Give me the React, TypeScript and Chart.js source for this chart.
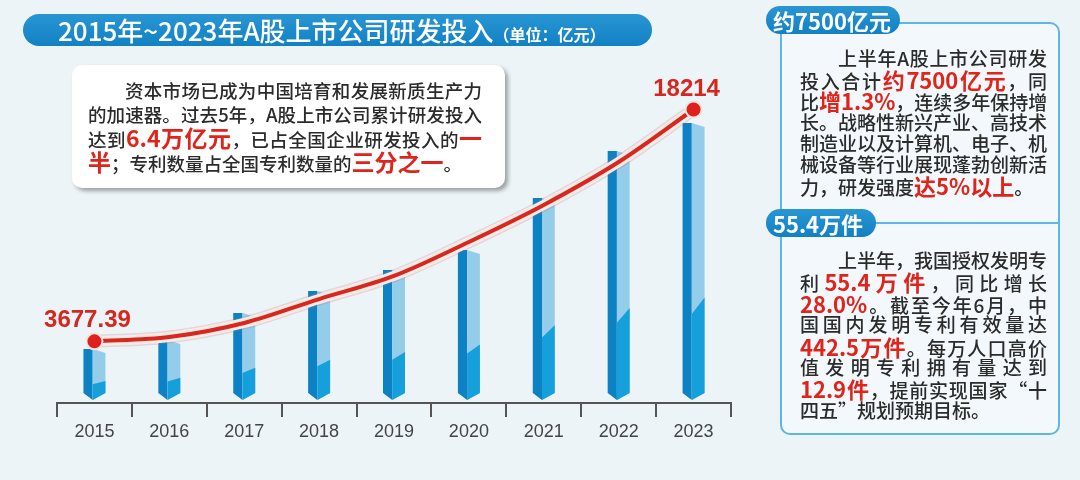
import React, { useEffect, useRef } from "react";
import { Chart, registerables } from "chart.js";

Chart.register(...registerables);

// ---------- data ----------
const years = ["2015", "2016", "2017", "2018", "2019", "2020", "2021", "2022", "2023"];
const barValues = [3200, 3760, 5450, 6830, 8150, 9400, 12660, 15610, 17370];
const trendValues = [3677.39, 3950, 4830, 6330, 7780, 9910, 12230, 14920, 18214];
const pointLabels = ["3677.39", "", "", "", "", "", "", "", "18214"];

const titleMain = "2015年~2023年A股上市公司研发投入";
const titleUnit = "（单位：亿元）";

type Seg = [string, boolean?];
const leftRows: Seg[][] = [
  [["资本市场已成为中国培育和发展新质生产力"]],
  [["的加速器。过去5年，A股上市公司累计研发投入"]],
  [["达到"], ["6.4万亿元", true], ["，已占全国企业研发投入的"], ["一", true]],
  [["半", true], ["；专利数量占全国专利数量的"], ["三分之一", true], ["。"]],
];

const panel1Title = "约7500亿元";
const panel1Rows: Seg[][] = [
  [["上半年A股上市公司研发"]],
  [["投入合计"], ["约7500亿元", true], ["，同"]],
  [["比"], ["增1.3%", true], ["，连续多年保持增"]],
  [["长。战略性新兴产业、高技术"]],
  [["制造业以及计算机、电子、机"]],
  [["械设备等行业展现蓬勃创新活"]],
  [["力，研发强度"], ["达5%以上", true], ["。"]],
];

const panel2Title = "55.4万件";
const panel2Rows: Seg[][] = [
  [["上半年，我国授权发明专"]],
  [["利"], ["55.4万件", true], ["，同比增长"]],
  [["28.0%", true], ["。截至今年6月，中"]],
  [["国国内发明专利有效量达"]],
  [["442.5万件", true], ["。每万人口高价"]],
  [["值发明专利拥有量达到"]],
  [["12.9件", true], ["，提前实现国家“十"]],
  [["四五”规划预期目标。"]],
];

const CJK = '"Noto Sans CJK SC", "Noto Sans", sans-serif';
const RED = "#e0231b";

// ---------- plugins ----------
const bar3d = {
  id: "bar3d",
  beforeDatasetDraw(chart: any, args: any) {
    const meta = args.meta;
    if (meta.type !== "bar") return;
    const ctx = chart.ctx as CanvasRenderingContext2D;
    ctx.save();
    meta.data.forEach((el: any) => {
      const { x, y, base, width } = el.getProps(["x", "y", "base", "width"], true);
      const l = x - width / 2;
      const r = x + width / 2;
      const s = l + width * 0.42;
      const d = 7;
      const h = base - y;
      ctx.fillStyle = "#0c82c4";
      ctx.beginPath();
      ctx.moveTo(l, y);
      ctx.lineTo(s, y);
      ctx.lineTo(s, base);
      ctx.lineTo(l, base - d);
      ctx.closePath();
      ctx.fill();
      ctx.fillStyle = "#93cde9";
      ctx.beginPath();
      ctx.moveTo(s, y);
      ctx.lineTo(r, y + 4);
      ctx.lineTo(r, base - d);
      ctx.lineTo(s, base);
      ctx.closePath();
      ctx.fill();
      const yL = base - 0.31 * h;
      const yR = base - 0.37 * h;
      ctx.fillStyle = "#159fdb";
      ctx.beginPath();
      ctx.moveTo(s, yL);
      ctx.lineTo(r, yR);
      ctx.lineTo(r, base - d);
      ctx.lineTo(s, base);
      ctx.closePath();
      ctx.fill();
    });
    ctx.restore();
    return false;
  },
};

const endLabels = {
  id: "endLabels",
  afterDatasetsDraw(chart: any) {
    const meta = chart.getDatasetMeta(0);
    const ctx = chart.ctx as CanvasRenderingContext2D;
    ctx.save();
    ctx.font = 'bold 24px "Liberation Sans", Arial, sans-serif';
    ctx.fillStyle = "#d7261d";
    ctx.textAlign = "center";
    ctx.textBaseline = "alphabetic";
    meta.data.forEach((pt: any, i: number) => {
      const t = pointLabels[i];
      if (!t) return;
      ctx.fillText(t, pt.x - 7, pt.y - 14);
    });
    ctx.restore();
  },
};

// ---------- text helpers ----------
function Row(props: {
  segs: Seg[];
  left: number;
  top: number;
  width: number;
  size: number;
  redSize: number;
  lh: number;
  justify: boolean;
  indent?: boolean;
}) {
  const { segs, left, top, width, size, redSize, lh, justify, indent } = props;
  return (
    <div
      style={{
        position: "absolute",
        left,
        top: top - lh / 2,
        width,
        height: lh,
        lineHeight: lh + "px",
        fontSize: size,
        fontWeight: 500,
        color: "#2b2b2b",
        whiteSpace: "nowrap",
        textAlign: justify ? "justify" : "left",
        textAlignLast: justify ? "justify" : "left",
        textIndent: indent ? 2 * size : 0,
        fontFamily: CJK,
      } as any}
    >
      {segs.map((sg, i) =>
        sg[1] ? (
          <span key={i} style={{ color: RED, fontWeight: 700, fontSize: redSize, lineHeight: lh + "px" }}>
            {sg[0]}
          </span>
        ) : (
          <span key={i}>{sg[0]}</span>
        )
      )}
    </div>
  );
}

export default function App() {
  const ref = useRef<HTMLCanvasElement>(null);

  useEffect(() => {
    const curve = { cubicInterpolationMode: "monotone" as const };
    const chart = new Chart(ref.current!, {
      type: "bar",
      data: {
        labels: years,
        datasets: [
          {
            type: "line",
            label: "研发投入",
            data: trendValues,
            borderColor: "#d5281e",
            borderWidth: 4,
            pointRadius: (c: any) => (c.dataIndex === 0 || c.dataIndex === years.length - 1 ? 8 : 0),
            pointBackgroundColor: "#e0201c",
            pointBorderColor: "#fbe3de",
            pointBorderWidth: 2,
            order: 0,
            ...curve,
          } as any,
          {
            type: "line",
            label: "glow",
            data: trendValues,
            borderColor: "#fbe9e5",
            borderWidth: 10,
            pointRadius: 0,
            order: 1,
            ...curve,
          } as any,
          {
            type: "line",
            label: "glow2",
            data: trendValues,
            borderColor: "rgba(170,120,115,0.22)",
            borderWidth: 13,
            pointRadius: 0,
            order: 2,
            ...curve,
          } as any,
          {
            type: "bar",
            label: "bars",
            data: barValues,
            barThickness: 22,
            backgroundColor: "#0c82c4",
            order: 3,
          } as any,
        ],
      },
      options: {
        responsive: false,
        animation: false,
        events: [],
        layout: { padding: { left: 57, right: 349, top: 40, bottom: 0 } },
        plugins: { legend: { display: false }, tooltip: { enabled: false } },
        scales: {
          x: {
            grid: { drawOnChartArea: false, drawTicks: true, tickLength: 14, color: "#555", lineWidth: 2, offset: true },
            border: { display: true, color: "#555", width: 2 },
            ticks: { color: "#444", font: { family: '"Liberation Sans", Arial, sans-serif', size: 18 }, padding: 4 },
            afterFit: (s: any) => {
              s.height = 77;
            },
          },
          y: { display: false, min: -188, max: 22572 },
        },
      } as any,
      plugins: [bar3d, endLabels],
    });
    return () => chart.destroy();
  }, []);

  const pillStyle = (left: number, top: number, w: number, h: number): React.CSSProperties => ({
    position: "absolute",
    left,
    top,
    width: w,
    height: h,
    borderRadius: h / 2,
    background: "linear-gradient(#2996d3, #1281c3)",
    color: "#fff",
    fontWeight: 700,
    fontSize: 22,
    lineHeight: h + "px",
    fontFamily: CJK,
    paddingLeft: 7,
    boxSizing: "border-box",
    whiteSpace: "nowrap",
  });

  return (
    <div
      style={{
        position: "fixed",
        left: 0,
        top: 0,
        width: 1080,
        height: 480,
        overflow: "hidden",
        background: "#edf4f8",
        fontFamily: CJK,
      }}
    >
      <canvas ref={ref} width={1080} height={480} style={{ position: "absolute", left: 0, top: 0 }} />

      {/* title */}
      <div
        style={{
          position: "absolute",
          left: 23,
          top: 14,
          width: 629,
          height: 32,
          borderRadius: 16,
          background: "linear-gradient(#2996d3, #1281c3)",
          color: "#fff",
          whiteSpace: "nowrap",
          lineHeight: "32px",
          fontFamily: CJK,
        }}
      >
        <span style={{ position: "absolute", left: 35, top: 0, fontSize: 26, fontWeight: 500 }}>
          {titleMain}
          <span style={{ fontSize: 16, fontWeight: 700 }}>{titleUnit}</span>
        </span>
      </div>

      {/* left text box */}
      <div
        style={{
          position: "absolute",
          left: 72,
          top: 65,
          width: 433,
          height: 123,
          background: "#fff",
          borderRadius: 10,
          boxShadow: "3px 3px 4px rgba(0,0,0,0.35)",
        }}
      />
      {leftRows.map((segs, i) => (
        <Row
          key={"l" + i}
          segs={segs}
          left={88}
          top={90 + i * 23.5}
          width={394}
          size={18.5}
          redSize={23}
          lh={24}
          justify={i < leftRows.length - 1}
          indent={i === 0}
        />
      ))}

      {/* right frame */}
      <div
        style={{
          position: "absolute",
          left: 780,
          top: 22,
          width: 280,
          height: 413,
          border: "2px solid #5cb8e2",
          borderRadius: 10,
          boxSizing: "border-box",
          background: "#f2f8fb",
        }}
      />
      <div style={{ position: "absolute", left: 780, top: 222, width: 280, height: 2, background: "#5cb8e2" }} />
      <div style={pillStyle(766, 6, 134, 28)}>{panel1Title}</div>
      <div style={pillStyle(766, 209, 110, 28)}>{panel2Title}</div>

      {panel1Rows.map((segs, i) => (
        <Row
          key={"p1" + i}
          segs={segs}
          left={800}
          top={58 + i * 21.2}
          width={247}
          size={19}
          redSize={22}
          lh={22}
          justify={i < panel1Rows.length - 1}
          indent={i === 0}
        />
      ))}
      {panel2Rows.map((segs, i) => (
        <Row
          key={"p2" + i}
          segs={segs}
          left={800}
          top={260 + i * 21.4}
          width={247}
          size={19}
          redSize={22}
          lh={22}
          justify={i < panel2Rows.length - 1}
          indent={i === 0}
        />
      ))}
    </div>
  );
}
